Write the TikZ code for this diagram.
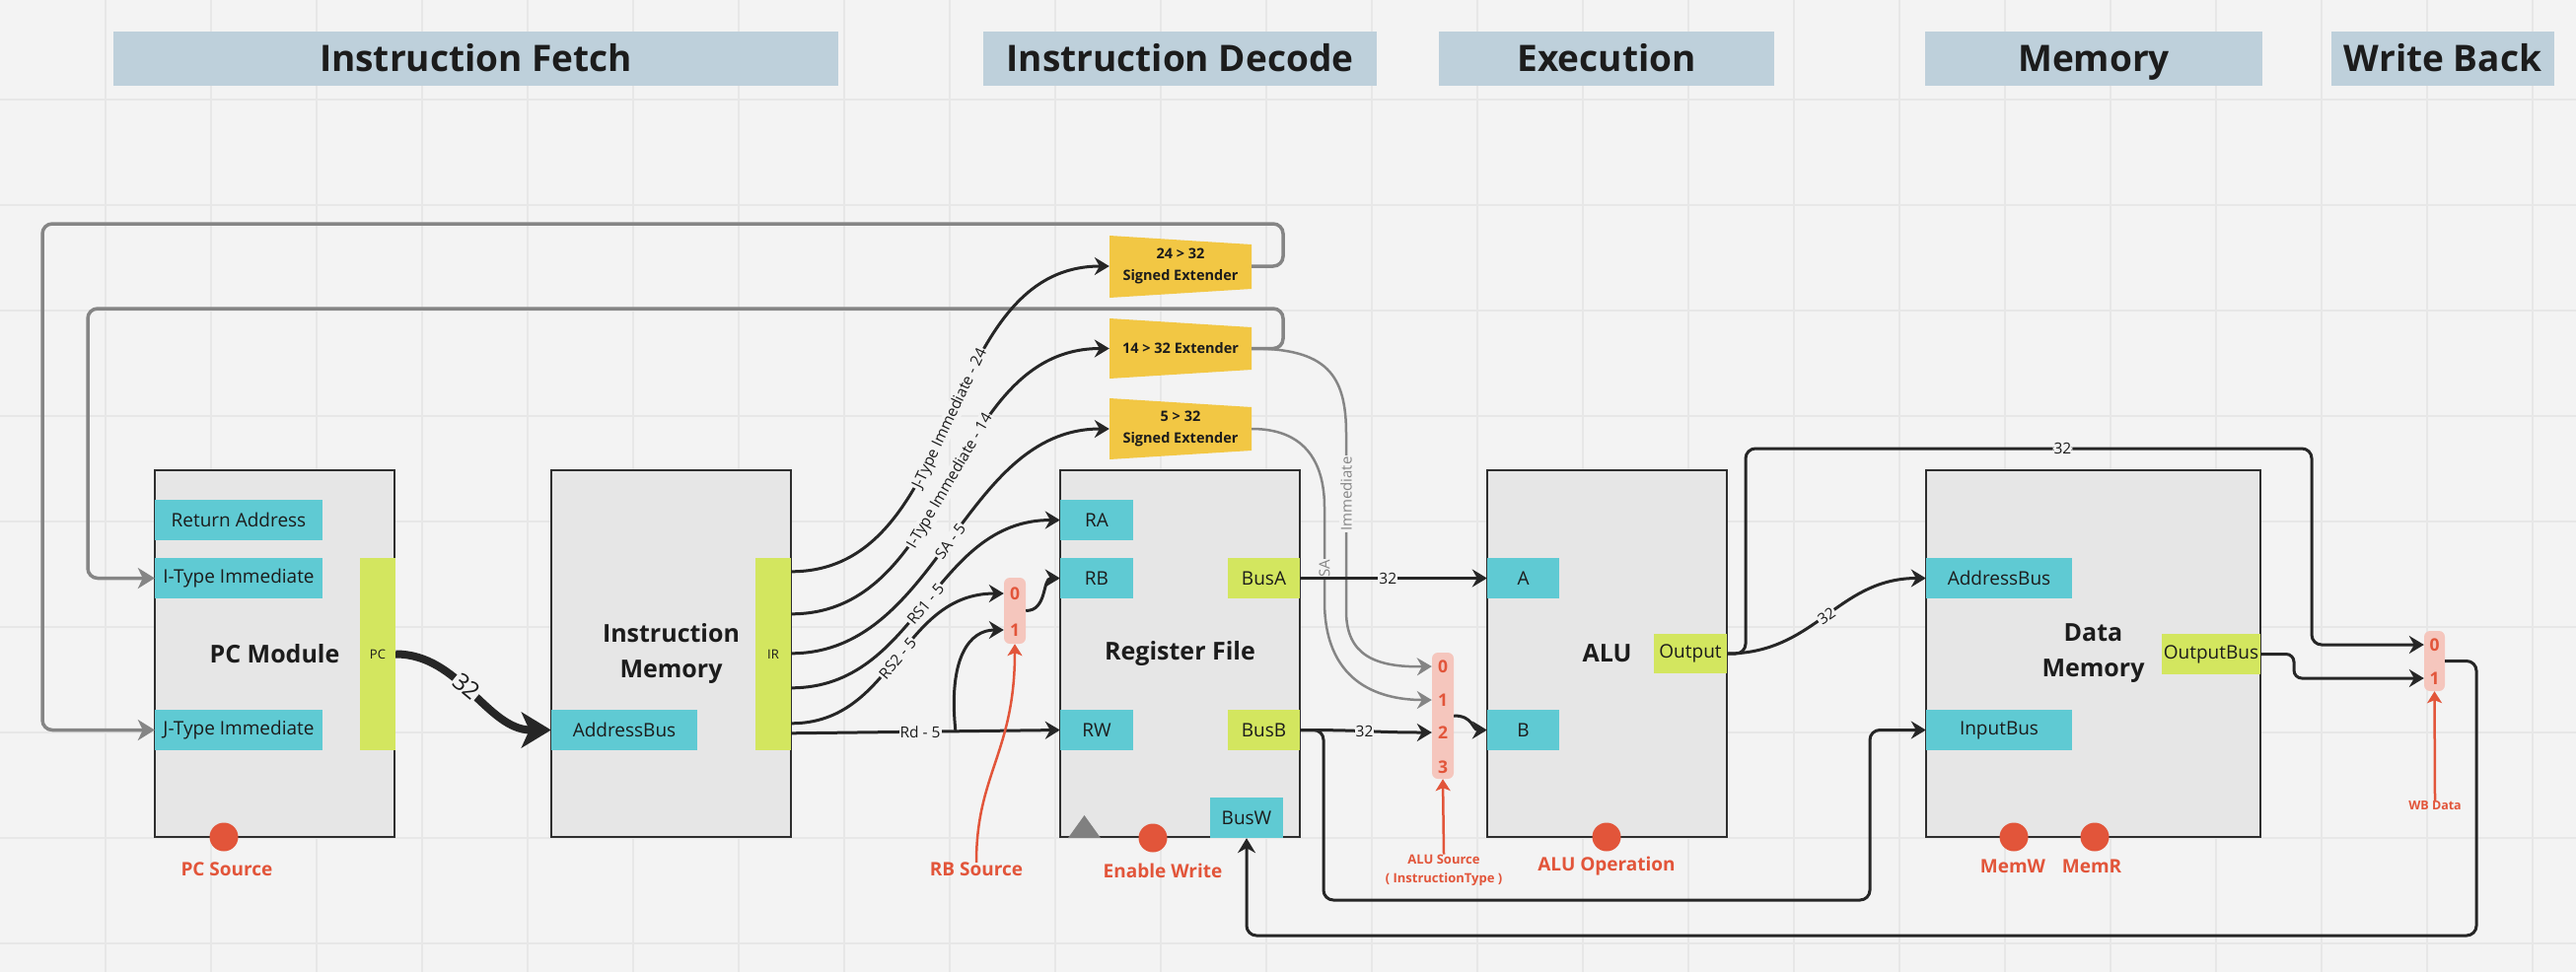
\documentclass[tikz,border=0pt]{standalone}
\usepackage{fontspec}
\setmainfont{Open Sans}
\usetikzlibrary{arrows.meta,calc}
\newcommand\fsz[2]{\fontsize{#1}{#2}\selectfont}
\definecolor{bgc}{HTML}{F3F3F3}
\definecolor{gridc}{HTML}{E7E7E7}
\definecolor{hdrc}{HTML}{BED0DB}
\definecolor{modfill}{HTML}{E6E6E6}
\definecolor{modline}{HTML}{2E2E2E}
\definecolor{cyanp}{HTML}{5FCAD3}
\definecolor{limep}{HTML}{D3E65F}
\definecolor{extc}{HTML}{F2C744}
\definecolor{muxc}{HTML}{F5C6BD}
\definecolor{redc}{HTML}{E2553A}
\definecolor{grayl}{HTML}{858585}
\definecolor{blk}{HTML}{262626}
\definecolor{txtc}{HTML}{1C1C1C}
\definecolor{trig}{HTML}{808080}
\begin{document}
\begin{tikzpicture}[x=1pt,y=-1pt,
  header/.style={fill=hdrc, minimum height=55pt, inner sep=0pt, text height=26.5pt, text depth=0pt, text=txtc, font=\fsz{37}{44}\bfseries},
  module/.style={fill=modfill, draw=modline, line width=2pt, minimum width=243pt, minimum height=372pt, inner sep=0pt, align=center, text=txtc, font=\fsz{25}{36}\bfseries},
  port/.style={fill=cyanp, minimum height=41pt, inner sep=0pt, text=txtc, font=\fsz{19}{22}},
  lport/.style={fill=limep, minimum height=41pt, inner sep=0pt, text=txtc, font=\fsz{19}{22}},
  ext/.style={minimum width=144pt, minimum height=45pt, inner sep=0pt, align=center, text=txtc, font=\fsz{14.5}{22}\bfseries},
  mux/.style={fill=muxc, rounded corners=6pt, minimum width=22pt, inner sep=0pt},
  muxnum/.style={inner sep=0pt, text=redc, font=\fsz{17.5}{20}\bfseries},
  dot/.style={circle, fill=redc, minimum size=29pt, inner sep=0pt},
  rlab/.style={text=redc, inner sep=0pt, align=center, font=\fsz{19}{22}\bfseries},
  lbl/.style={fill=bgc, inner sep=1pt, text=txtc, font=\fsz{15.5}{18}},
  glbl/.style={fill=bgc, inner sep=1pt, text=grayl, font=\fsz{15}{18}},
  barrow/.style={draw=blk, line width=3pt, -{Stealth[length=15pt,width=18pt,inset=5pt]}},
  gloop/.style={draw=grayl, line width=3.5pt, rounded corners=10pt, -{Stealth[length=17pt,width=21pt,inset=5pt]}},
  garrow/.style={draw=grayl, line width=2.5pt, -{Stealth[length=15pt,width=18pt,inset=5pt]}},
  rarrow/.style={draw=redc, line width=2.5pt, -{Stealth[length=12pt,width=15pt,inset=3pt]}},
]
\useasboundingbox (0,0) rectangle (2612,986);
\fill[bgc] (0,0) rectangle (2612,986);
\foreach \i in {1,...,24} \draw[gridc, line width=1.5pt] (107*\i,0) -- (107*\i,986);
\foreach \j in {0,...,8} \draw[gridc, line width=1.5pt] (0,101+107*\j) -- (2612,101+107*\j);

% headers
\node[header, minimum width=735pt] (hif) at (482.5,59.5) {Instruction Fetch};
\node[header, minimum width=399pt] (hid) at (1196.5,59.5) {Instruction Decode};
\node[header, minimum width=340pt] (hex) at (1629,59.5) {Execution};
\node[header, minimum width=342pt] (hmem) at (2123,59.5) {Memory};
\node[header, minimum width=226pt] (hwb) at (2477,59.5) {Write Back};

% modules
\node[module] (pcm) at (278.5,663) {PC Module};
\node[module] (imem) at (680.5,663) {Instruction\\Memory};
\node[module] (rf) at (1196.5,663) {Register File};
\node[module] (alu) at (1629.5,663) {ALU};
\node[module, minimum width=339pt] (dmem) at (2122.5,663) {Data\\Memory};

% ports
\node[port, minimum width=170pt] (retaddr) at (242,527.5) {Return Address};
\node[port, minimum width=170pt] (itype) at (242,586.5) {I-Type Immediate};
\node[port, minimum width=170pt] (jtype) at (242,740.5) {J-Type Immediate};
\node[lport, minimum width=36pt, minimum height=195pt, font=\fsz{13}{16}] (pc) at (383,663.5) {PC};
\node[port, minimum width=148pt] (imaddr) at (633,740.5) {AddressBus};
\node[lport, minimum width=36pt, minimum height=195pt, font=\fsz{13}{16}] (ir) at (784,663.5) {IR};
\node[port, minimum width=74pt] (ra) at (1112,527.5) {RA};
\node[port, minimum width=74pt] (rb) at (1112,586.5) {RB};
\node[port, minimum width=74pt] (rw) at (1112,740.5) {RW};
\node[lport, minimum width=73pt] (busa) at (1281.5,586.5) {BusA};
\node[lport, minimum width=73pt] (busb) at (1281.5,740.5) {BusB};
\node[port, minimum width=74pt] (busw) at (1264,829.5) {BusW};
\node[port, minimum width=73pt] (pa) at (1544.5,586.5) {A};
\node[port, minimum width=73pt] (pb) at (1544.5,740.5) {B};
\node[lport, minimum width=74pt, minimum height=40pt] (aluout) at (1714,663) {Output};
\node[port, minimum width=148pt] (dmaddr) at (2027,586.5) {AddressBus};
\node[port, minimum width=148pt] (dmin) at (2027,740.5) {InputBus};
\node[lport, minimum width=100pt] (dmout) at (2242,663.5) {OutputBus};

% extenders
\fill[extc] (1125,239) -- (1269,248) -- (1269,293) -- (1125,302) -- cycle;
\node[ext] (e24) at (1197,270) {24 > 32\\Signed Extender};
\fill[extc] (1125,323) -- (1269,332) -- (1269,375) -- (1125,384) -- cycle;
\node[ext] (e14) at (1197,353.5) {14 > 32 Extender};
\fill[extc] (1125,404) -- (1269,413) -- (1269,457) -- (1125,466) -- cycle;
\node[ext] (e5) at (1197,435) {5 > 32\\Signed Extender};

% muxes
\node[mux, minimum height=67pt] (mrb) at (1029,619.5) {};
\node[muxnum] (mrb0) at (1029,602) {0};
\node[muxnum] (mrb1) at (1029,639) {1};
\node[mux, minimum height=128pt] (malu) at (1463,726) {};
\node[muxnum] (malu0) at (1463,676) {0};
\node[muxnum] (malu1) at (1463,710) {1};
\node[muxnum] (malu2) at (1463,743) {2};
\node[muxnum] (malu3) at (1463,778) {3};
\node[mux, minimum width=21pt, minimum height=61pt] (mwb) at (2468.5,670.5) {};
\node[muxnum] (mwb0) at (2468.5,654) {0};
\node[muxnum] (mwb1) at (2468.5,688) {1};

% gray loops
\draw[gloop] (e24.east) -- (1301,270) -- (1301,227) -- (43,227) -- (43,740.5) -- (jtype.west);
\draw[gloop] (e14.east) -- (1301,353.5) -- (1301,313) -- (89,313) -- (89,586.5) -- (itype.west);

% immediate and SA to ALU source mux
\draw[garrow] (e14.east) .. controls (1345,353.5) and (1365,380) .. (1365,440) -- node[glbl, pos=0.34, rotate=90]{Immediate} (1365,620) .. controls (1365,665) and (1395,677) .. (malu0 -| malu.west);
\draw[garrow] (e5.east) .. controls (1320,435) and (1343,465) .. (1343,515) -- node[glbl, pos=0.65, rotate=90]{SA} (1343,610) .. controls (1343,690) and (1395,710) .. (malu1 -| malu.west);

% PC -> instruction memory
\draw[draw=blk, line width=8pt, -{Stealth[length=30pt,width=36pt,inset=8pt]}] (pc.east) .. controls +(65,0) and +(-65,0) .. node[lbl, sloped, pos=0.45, font=\fsz{24}{28}]{32} (imaddr.west);

% IR fields
\coordinate (irJ) at ($(ir.north east)+(0,14)$);
\coordinate (irI) at ($(ir.north east)+(0,57)$);
\coordinate (irS) at ($(ir.north east)+(0,97)$);
\coordinate (irR1) at ($(ir.north east)+(0,132)$);
\coordinate (irR2) at ($(ir.north east)+(0,168)$);
\coordinate (irRd) at ($(ir.north east)+(0,178)$);
\draw[barrow] (irJ) .. controls +(175,0) and +(-175,0) .. node[lbl, sloped]{J-Type Immediate - 24} (e24.west);
\draw[barrow] (irI) .. controls +(165,0) and +(-165,0) .. node[lbl, sloped]{I-Type Immediate - 14} (e14.west);
\draw[barrow] (irS) .. controls +(150,0) and +(-150,0) .. node[lbl, sloped]{SA - 5} (e5.west);
\draw[barrow] (irR1) .. controls +(130,0) and +(-130,0) .. node[lbl, sloped]{RS1 - 5} (ra.west);
\draw[barrow] (irR2) .. controls +(105,0) and +(-105,0) .. node[lbl, sloped]{RS2 - 5} (mrb0 -| mrb.west);
\draw[barrow] (irRd) -- node[lbl, pos=0.48]{Rd - 5} (rw.west);
\coordinate (rdj) at (969,742.5);
\draw[barrow] (rdj) .. controls +(-8,-75) and +(-35,0) .. (mrb1 -| mrb.west);
\draw[barrow] (mrb.east) .. controls +(22,0) and +(-18,0) .. (rb.west);

% register file outputs
\draw[barrow] (busa.east) -- node[lbl, pos=0.47]{32} (pa.west);
\draw[barrow, rounded corners=10pt] (busb.east) -- (1342,740.5) -- (1342,913) -- (1896,913) -- (1896,740.5) -- (dmin.west);
\draw[barrow] (busb.east) .. controls +(70,0) and +(-60,0) .. node[lbl, pos=0.45]{32} (malu2 -| malu.west);
\draw[barrow] (malu.east) .. controls +(20,0) and +(-15,0) .. (pb.west);

% ALU output
\draw[barrow] (aluout.east) .. controls +(90,0) and +(-90,0) .. node[lbl, sloped]{32} (dmaddr.west);
\draw[barrow, rounded corners=10pt] (aluout.east) -- (1770,663) -- (1770,455) -- node[lbl, pos=0.56]{32} (2344,455) -- (2344,654) -- (mwb0 -| mwb.west);
\draw[barrow, rounded corners=8pt] (dmout.east) -- (2326,663.5) -- (2326,688) -- (mwb1 -| mwb.west);
\draw[barrow, rounded corners=10pt] (mwb.east) -- (2511,670.5) -- (2511,949) -- (1264,949) -- (busw.south);

% clock triangle
\fill[trig] (1083,850) -- (1116,850) -- (1099.5,827) -- cycle;

% control signals
\node[dot] (pcsrcdot) at (227,849) {};
\node[rlab] (pcsrc) at (230,882) {PC Source};
\node[dot] (ewdot) at (1169,850) {};
\node[rlab] (ew) at (1179,883) {Enable Write};
\node[dot] (aluopdot) at (1629,849) {};
\node[rlab] (aluop) at (1629,879) {ALU Operation};
\node[dot] (memwdot) at (2042,849) {};
\node[dot] (memrdot) at (2124,849) {};
\node[rlab] (memw) at (2041,879) {MemW};
\node[rlab] (memr) at (2121,879) {MemR};
\node[rlab] (rbsrc) at (990,882) {RB Source};
\node[rlab, font=\fsz{13}{19}\bfseries] (alusrc) at (1464,882.5) {ALU Source\\( InstructionType )};
\node[rlab, font=\fsz{12.5}{15}\bfseries] (wbd) at (2469,817) {WB Data};
\draw[rarrow] (rbsrc.north) .. controls +(0,-90) and +(0,110) .. (mrb.south);
\draw[rarrow] (alusrc.north) -- (malu.south);
\draw[rarrow] (wbd.north) -- (mwb.south);
\end{tikzpicture}
\end{document}
